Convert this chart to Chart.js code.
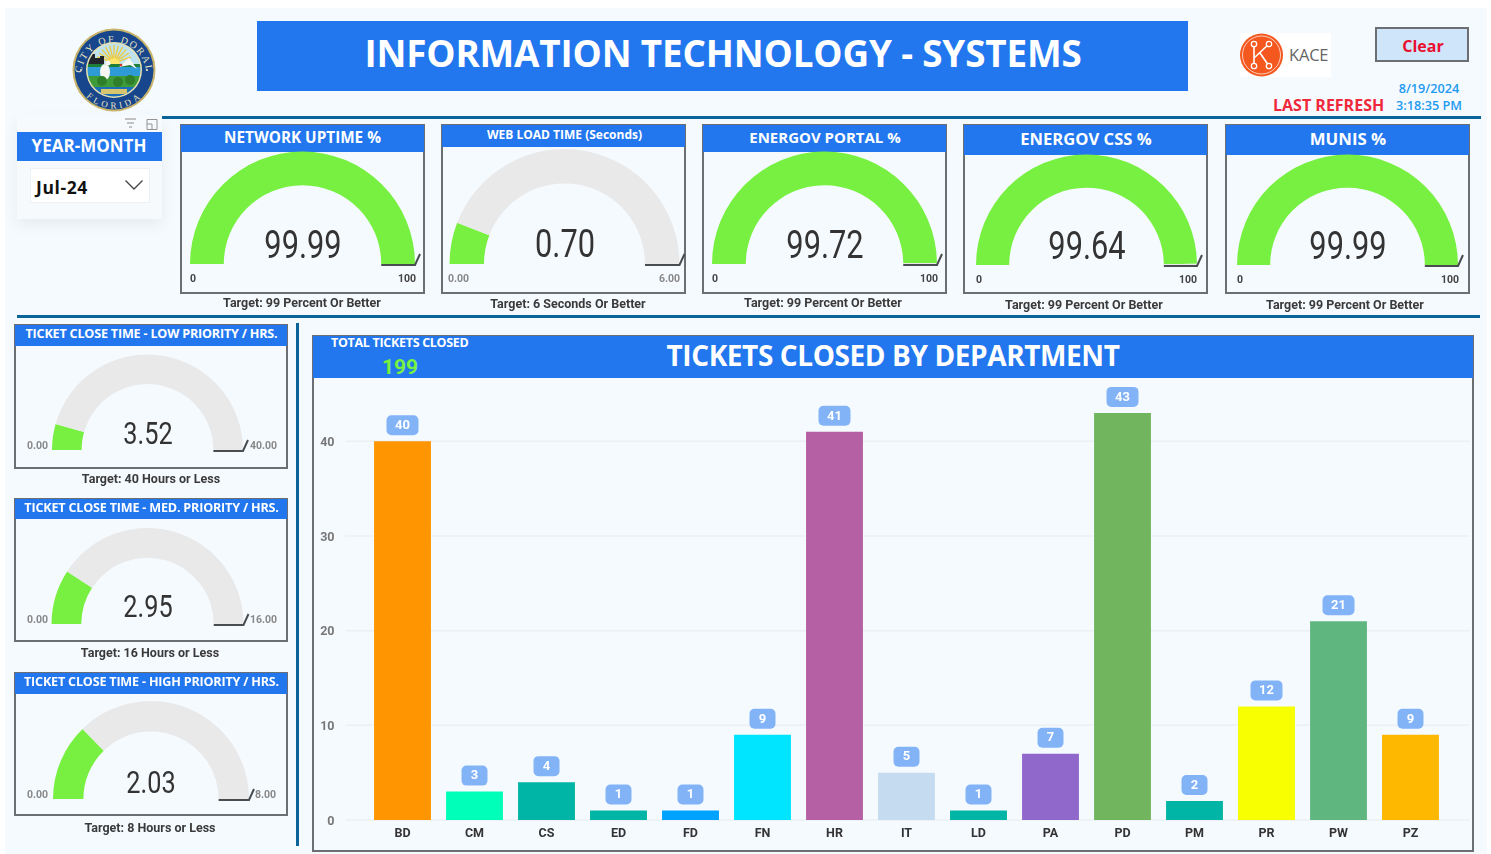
<!DOCTYPE html>
<html>
<head>
<meta charset="utf-8">
<title>Information Technology - Systems</title>
<script src="https://cdn.jsdelivr.net/npm/chart.js@4"></script>
<style>
html, body { margin: 0; padding: 0; background: #fff; overflow: hidden; }
#page { position: absolute; left: 5px; top: 8px; width: 1482px; height: 846px; background: #F5FAFF; }
#stage { position: absolute; left: 0; top: 0; width: 1491px; height: 854px; font-family: "Open Sans", sans-serif; }
.abs { position: absolute; box-sizing: border-box; }
.txt { position: absolute; white-space: nowrap; line-height: 1; }
canvas { position: absolute; }
</style>
</head>
<body>
<div id="page"></div>
<div id="stage"></div>
<script>
// Top row gauges
const topTitles = ['NETWORK UPTIME %', 'WEB LOAD TIME (Seconds)', 'ENERGOV PORTAL %', 'ENERGOV CSS %', 'MUNIS %'];
const topValues = [99.99, 0.70, 99.72, 99.64, 99.99];
const topValueText = ['99.99', '0.70', '99.72', '99.64', '99.99'];
const topMax = [100, 6, 100, 100, 100];
const topMarkers = [100, 6, 100, 100, 100];
const topMinText = ['0', '0.00', '0', '0', '0'];
const topMaxText = ['100', '6.00', '100', '100', '100'];
const topCaptions = ['Target: 99 Percent Or Better', 'Target: 6 Seconds Or Better', 'Target: 99 Percent Or Better', 'Target: 99 Percent Or Better', 'Target: 99 Percent Or Better'];

// Left column gauges
const sideTitles = ['TICKET CLOSE TIME - LOW PRIORITY / HRS.', 'TICKET CLOSE TIME - MED. PRIORITY / HRS.', 'TICKET CLOSE TIME - HIGH PRIORITY / HRS.'];
const sideValues = [3.52, 2.95, 2.03];
const sideValueText = ['3.52', '2.95', '2.03'];
const sideMax = [40, 16, 8];
const sideMarkers = [40, 16, 8];
const sideMinText = ['0.00', '0.00', '0.00'];
const sideMaxText = ['40.00', '16.00', '8.00'];
const sideCaptions = ['Target: 40 Hours or Less', 'Target: 16 Hours or Less', 'Target: 8 Hours or Less'];

// Bar chart
const departments = ['BD', 'CM', 'CS', 'ED', 'FD', 'FN', 'HR', 'IT', 'LD', 'PA', 'PD', 'PM', 'PR', 'PW', 'PZ'];
const ticketsClosed = [40, 3, 4, 1, 1, 9, 41, 5, 1, 7, 43, 2, 12, 21, 9];
const barColors = ['#FF9500', '#00FFB8', '#00B5A5', '#00B5A5', '#00A2FF', '#00E5FF', '#B55FA5', '#C5DCF0', '#00B5A5', '#9068CC', '#71B65F', '#00B5A5', '#F7FF00', '#5FB67F', '#FFB800'];
const totalClosed = '199';

const BLUE = '#2277EE';
const GREEN = '#78F042';
const GREY = '#E9E9E9';
const RULE = '#0B6498';
const stage = document.getElementById('stage');

function rect(x, y, w, h, css) {
    var d = document.createElement('div');
    d.className = 'abs';
    d.style.cssText = 'left:' + x + 'px;top:' + y + 'px;width:' + w + 'px;height:' + h + 'px;' + (css || '');
    stage.appendChild(d);
    return d;
}

// align: 'l' = x is left edge, 'r' = x is right edge, 'c' = x is centre. y is always the middle.
function label(text, x, y, align, css, stretch) {
    var d = document.createElement('div');
    d.className = 'txt';
    d.textContent = text;
    var shift = align == 'c' ? '-50%' : (align == 'r' ? '-100%' : '0');
    d.style.cssText = 'left:' + x + 'px;top:' + y + 'px;' + (css || '');
    d.style.transformOrigin = '0 center';
    d.style.transform = (stretch ? 'scaleX(' + stretch + ') ' : '') + 'translate(' + shift + ',-50%)';
    stage.appendChild(d);
    return d;
}

// target marker: radial line across the ring, with a short tail past the rim
const targetMark = {
    id: 'targetMark',
    afterDatasetsDraw: function(chart) {
        var target = chart.config.options.plugins.targetMark;
        var arc = chart.getDatasetMeta(0).data[0];
        var a = Math.PI + Math.PI * target.value / target.max;
        var c = chart.ctx;
        var cx = arc.x, cy = arc.y + 1;
        var ox = cx + Math.cos(a) * arc.outerRadius, oy = cy + Math.sin(a) * arc.outerRadius;
        c.save();
        c.strokeStyle = '#4a4d50';
        c.lineWidth = 2;
        c.beginPath();
        c.moveTo(cx + Math.cos(a) * arc.innerRadius, cy + Math.sin(a) * arc.innerRadius);
        c.lineTo(ox, oy);
        c.lineTo(ox + 5, oy - 11);
        c.stroke();
        c.restore();
    }
};

function gauge(box, value, max, marker) {
    var cv = document.createElement('canvas');
    cv.width = box.w;
    cv.height = box.h;
    cv.style.left = box.x + 'px';
    cv.style.top = box.y + 'px';
    stage.appendChild(cv);
    new Chart(cv.getContext('2d'), {
        type: 'doughnut',
        data: { datasets: [{ data: [value, max - value], backgroundColor: [GREEN, GREY], borderWidth: 0 }] },
        options: {
            responsive: false,
            animation: false,
            events: [],
            rotation: -90,
            circumference: 180,
            cutout: box.cut,
            layout: { padding: {
                left: box.cx - box.r - box.x,
                right: box.x + box.w - box.cx - box.r,
                top: box.base - box.r - box.y,
                bottom: box.y + box.h - box.base
            } },
            plugins: { legend: { display: false }, tooltip: { enabled: false }, targetMark: { value: marker, max: max } }
        },
        plugins: [targetMark]
    });
}

function panel(box, title, titleCss) {
    rect(box.x, box.y, box.w, box.h, 'border:2px solid #6b6f73;');
    rect(box.x + 1, box.y + 1, box.w - 2, box.head, 'background:' + BLUE + ';');
    label(title, box.cx0, box.titleY, 'c', 'color:#fff;font-weight:700;' + titleCss);
}

// ---------- banner ----------
rect(257, 21, 931, 70, 'background:' + BLUE + ';');
label('INFORMATION TECHNOLOGY - SYSTEMS', 723, 53, 'c', 'color:#fff;font-weight:700;font-size:36.800px;letter-spacing:-0.15px;');

// city seal
var seal = rect(71, 27, 86, 86);
var rays = '';
for (var deg = -70; deg <= 70; deg += 14) {
    rays += '<line x1="43" y1="36" x2="43" y2="18" stroke="#F2C832" stroke-width="1.2" transform="rotate(' + deg + ' 43 36)"/>';
}
seal.innerHTML = '<svg width="86" height="86" viewBox="0 0 86 86"><defs>' +
    '<path id="sealTop" d="M10.500 48 A32.500 32.500 0 0 1 75.500 48"/><path id="sealBot" d="M11 50 A33 33 0 0 0 75 50"/>' +
    '<clipPath id="sealClip"><circle cx="43" cy="43" r="26.500"/></clipPath></defs>' +
    '<circle cx="43" cy="43" r="41.500" fill="#C9B56A"/><circle cx="43" cy="43" r="39.500" fill="#17468C"/>' +
    '<circle cx="43" cy="43" r="28" fill="#E8E2B0"/>' +
    '<g clip-path="url(#sealClip)"><rect x="14" y="14" width="58" height="24" fill="#BFE3EE"/>' + rays +
    '<circle cx="43" cy="37" r="6" fill="#FBE56A"/>' +
    '<path d="M14 37 V30 H20 V27 H24 V31 H29 V29 H33 V37 Z" fill="#20262B"/>' +
    '<rect x="14" y="37" width="58" height="3" fill="#1E7F3A"/><rect x="14" y="40" width="58" height="9" fill="#2E9BD6"/>' +
    '<rect x="14" y="49" width="58" height="11" fill="#3E9B3A"/><rect x="14" y="60" width="58" height="12" fill="#1C6FB5"/>' +
    '<ellipse cx="34" cy="45" rx="5" ry="8" fill="#F6F6F2"/><circle cx="37" cy="36" r="2.500" fill="#F6F6F2"/>' +
    '<path d="M48 40 L58 31 L66 42 L59 38 Z" fill="#F6F6F2"/><circle cx="50" cy="38" r="1.300" fill="#D8342A"/>' +
    '<circle cx="31" cy="54" r="5" fill="#2F7F2A"/><circle cx="47" cy="55" r="5" fill="#2F7F2A"/><circle cx="59" cy="53" r="5" fill="#2F7F2A"/>' +
    '<rect x="30" y="62" width="26" height="5" fill="#D8C56E"/></g>' +
    '<circle cx="10" cy="43" r="1" fill="#E9E4C0"/><circle cx="76" cy="43" r="1" fill="#E9E4C0"/>' +
    '<text font-family="Liberation Serif" font-size="10" fill="#E9E4C0" letter-spacing="1.800"><textPath href="#sealTop" startOffset="50%" text-anchor="middle">CITY OF DORAL</textPath></text>' +
    '<text font-family="Liberation Serif" font-size="9" fill="#E9E4C0" letter-spacing="2"><textPath href="#sealBot" startOffset="50%" text-anchor="middle" dominant-baseline="hanging">FLORIDA</textPath></text>' +
    '</svg>';

// KACE logo
var kace = rect(1240, 33, 91, 44, 'background:#fff;');
kace.innerHTML = '<svg width="44" height="44" viewBox="0 0 44 44" style="position:absolute;left:0;top:0">' +
    '<circle cx="21.500" cy="22" r="21.500" fill="#F4581E"/><circle cx="21.500" cy="22" r="19" fill="none" stroke="#fff" stroke-width="0.7"/>' +
    '<path d="M14 11 V33 M14 25 L29 11 M20 20 L29 33" fill="none" stroke="#fff" stroke-width="1.6"/>' +
    '<circle cx="14" cy="11" r="2.700" fill="#F4581E" stroke="#fff" stroke-width="1.300"/><circle cx="14" cy="33" r="2.700" fill="#F4581E" stroke="#fff" stroke-width="1.300"/>' +
    '<circle cx="29" cy="11" r="2.700" fill="#F4581E" stroke="#fff" stroke-width="1.300"/><circle cx="29" cy="33" r="2.700" fill="#F4581E" stroke="#fff" stroke-width="1.300"/></svg>';
label('KACE', 1289, 55, 'l', 'color:#666;font-size:16.500px;letter-spacing:-0.2px;');

// clear button and refresh stamp
rect(1375, 27, 94, 35, 'background:#CFE6FA;border:2px solid #6b6f73;');
label('Clear', 1423, 46, 'c', 'color:#E8102E;font-weight:700;font-size:16px;');
label('8/19/2024', 1429, 88, 'c', 'color:#1E9BEF;font-weight:600;font-size:12.700px;');
label('3:18:35 PM', 1429, 105, 'c', 'color:#1E9BEF;font-weight:600;font-size:12.700px;');
label('LAST REFRESH', 1273, 105, 'l', 'color:#F0283C;font-weight:700;font-size:16px;');

// rules
rect(162, 116, 1319, 3, 'background:' + RULE + ';');
rect(17, 315, 1463, 3, 'background:' + RULE + ';');
rect(296, 323, 3, 523, 'background:' + RULE + ';');

// ---------- year-month slicer ----------
rect(17, 115, 145, 104, 'background:#F7FAFD;box-shadow:0 6px 14px rgba(0,0,0,0.06);');
rect(17, 132, 145, 29, 'background:' + BLUE + ';');
label('YEAR-MONTH', 89, 145, 'c', 'color:#fff;font-weight:700;font-size:17px;');
rect(30, 168, 120, 35, 'background:#fff;border:1px solid #eef1f4;');
label('Jul-24', 36, 188, 'l', 'color:#111;font-weight:700;font-size:17.500px;letter-spacing:0.6px;');
var icons = rect(122, 116, 40, 15);
icons.innerHTML = '<svg width="40" height="15" style="position:absolute;left:0;top:0" fill="none" stroke="#888">' +
    '<path d="M3 3 H14 M5 7 H12 M7 11 H10"/><path d="M25 3.500 H35 V13.500 H25 Z M25 8 H30 V13.500" stroke-width="0.9"/></svg>';
var chev = rect(124, 179, 20, 12);
chev.innerHTML = '<svg width="20" height="12" style="position:absolute;left:0;top:0"><path d="M1.500 1.500 L10 10 L18.500 1.500" fill="none" stroke="#444" stroke-width="1.3"/></svg>';

// ---------- top gauges ----------
const topBoxes = [
    { x: 180, y: 124, w: 245, h: 170, head: 27, cx: 302.5, r: 112.5, base: 264, cut: '70%', cx0: 302.5, titleY: 137.5, titleSize: 15.3, valueY: 245, captionX: 302, captionY: 303, minX: 190, maxX: 416, labelY: 279 },
    { x: 441, y: 124, w: 245, h: 170, head: 22, cx: 564.5, r: 115, base: 264, cut: '70%', cx0: 564.5, titleY: 134.5, titleSize: 12, valueY: 244, captionX: 568, captionY: 304, minX: 448, maxX: 680, labelY: 279 },
    { x: 702, y: 124, w: 245, h: 170, head: 27, cx: 824.5, r: 112.5, base: 264, cut: '70%', cx0: 825, titleY: 136.5, titleSize: 15, valueY: 245, captionX: 823, captionY: 303, minX: 712, maxX: 938, labelY: 279 },
    { x: 963, y: 124, w: 245, h: 170, head: 30, cx: 1086.5, r: 110.5, base: 265, cut: '70%', cx0: 1086, titleY: 139, titleSize: 16.6, valueY: 246, captionX: 1084, captionY: 305, minX: 976, maxX: 1197, labelY: 280 },
    { x: 1225, y: 124, w: 245, h: 170, head: 30, cx: 1347.5, r: 110.5, base: 265, cut: '70%', cx0: 1348, titleY: 139, titleSize: 16.8, valueY: 246, captionX: 1345, captionY: 305, minX: 1237, maxX: 1459, labelY: 280 }
];

topTitles.forEach(function(title, i) {
    var b = topBoxes[i];
    panel(b, title, 'font-size:' + b.titleSize + 'px;');
    gauge(b, topValues[i], topMax[i], topMarkers[i]);
    label(topValueText[i], b.cx, b.valueY, 'c', 'color:#333;font-family:Roboto;font-size:38px;', 0.81);
    var small = topMinText[i].indexOf('.') > 0 ? '#888' : '#444';
    label(topMinText[i], b.minX, b.labelY, 'l', 'color:' + small + ';font-family:Roboto;font-weight:700;font-size:10.500px;');
    label(topMaxText[i], b.maxX, b.labelY, 'r', 'color:' + small + ';font-family:Roboto;font-weight:700;font-size:10.500px;');
    label(topCaptions[i], b.captionX, b.captionY, 'c', 'color:#3a3a3a;font-family:Roboto;font-weight:700;font-size:12.500px;');
});

// ---------- side gauges ----------
const sideBoxes = [
    { x: 14, y: 324, w: 274, h: 145, head: 21, cx: 147.5, r: 95.5, base: 450, cut: '69%', cx0: 151.5, titleY: 333.5, titleSize: 12.6, valueY: 433, valueX: 148, captionX: 151, captionY: 479, minX: 27, maxX: 250, labelY: 446 },
    { x: 14, y: 498, w: 274, h: 144, head: 20, cx: 147.5, r: 96, base: 624, cut: '69%', cx0: 151.5, titleY: 507.5, titleSize: 12.6, valueY: 606, valueX: 148, captionX: 150, captionY: 653, minX: 27, maxX: 250, labelY: 620 },
    { x: 14, y: 672, w: 274, h: 144, head: 21, cx: 151, r: 98, base: 799, cut: '69%', cx0: 151.5, titleY: 681.5, titleSize: 12.6, valueY: 782, valueX: 151, captionX: 150, captionY: 828, minX: 27, maxX: 255, labelY: 795 }
];

sideTitles.forEach(function(title, i) {
    var b = sideBoxes[i];
    panel(b, title, 'font-size:' + b.titleSize + 'px;letter-spacing:-0.2px;');
    gauge(b, sideValues[i], sideMax[i], sideMarkers[i]);
    label(sideValueText[i], b.valueX, b.valueY, 'c', 'color:#333;font-family:Roboto;font-size:32px;', 0.79);
    label(sideMinText[i], b.minX, b.labelY, 'l', 'color:#888;font-family:Roboto;font-weight:700;font-size:10.500px;');
    label(sideMaxText[i], b.maxX, b.labelY, 'l', 'color:#888;font-family:Roboto;font-weight:700;font-size:10.500px;');
    label(sideCaptions[i], b.captionX, b.captionY, 'c', 'color:#3a3a3a;font-family:Roboto;font-weight:700;font-size:12.500px;');
});

// ---------- bar chart ----------
rect(312, 335, 1162, 517, 'border:2px solid #6b6f73;');
rect(313, 336, 1160, 42, 'background:' + BLUE + ';');
label('TOTAL TICKETS CLOSED', 331, 343, 'l', 'color:#fff;font-weight:700;font-size:12.500px;letter-spacing:-0.3px;');
label(totalClosed, 400, 367, 'c', 'color:' + GREEN + ';font-family:Roboto;font-weight:700;font-size:21px;');
label('TICKETS CLOSED BY DEPARTMENT', 893, 355, 'c', 'color:#fff;font-weight:700;font-size:28px;letter-spacing:-0.4px;');

var barCanvas = document.createElement('canvas');
barCanvas.width = 1160;
barCanvas.height = 472;
barCanvas.style.left = '313px';
barCanvas.style.top = '379px';
stage.appendChild(barCanvas);

// grid lines run wider than the category bands, so they are drawn from the y ticks here
const wideGrid = {
    id: 'wideGrid',
    beforeDatasetsDraw: function(chart) {
        var y = chart.scales.y, c = chart.ctx, area = chart.chartArea;
        c.save();
        c.strokeStyle = '#EDF0F3';
        c.lineWidth = 1.5;
        y.ticks.forEach(function(t) {
            var py = y.getPixelForValue(t.value);
            c.beginPath();
            c.moveTo(area.left - 21, py);
            c.lineTo(area.right + 23, py);
            c.stroke();
        });
        c.restore();
    }
};

// value pills above the bars
const pillLabels = {
    id: 'pillLabels',
    afterDatasetsDraw: function(chart) {
        var c = chart.ctx;
        chart.getDatasetMeta(0).data.forEach(function(bar, i) {
            var text = String(ticketsClosed[i]);
            var w = text.length > 1 ? 32 : 26, h = 20;
            var top = bar.y - 6 - h;
            c.fillStyle = '#82B3F7';
            c.beginPath();
            c.roundRect(bar.x - w / 2, top, w, h, 5);
            c.fill();
            c.fillStyle = '#fff';
            c.font = '700 13px Roboto';
            c.textAlign = 'center';
            c.textBaseline = 'middle';
            c.fillText(text, bar.x, top + h / 2 + 0.5);
        });
    }
};

new Chart(barCanvas.getContext('2d'), {
    type: 'bar',
    data: {
        labels: departments,
        datasets: [{ data: ticketsClosed, backgroundColor: barColors, borderWidth: 0, barPercentage: 0.79, categoryPercentage: 1 }]
    },
    options: {
        responsive: false,
        animation: false,
        events: [],
        layout: { padding: { top: 5.5, right: 26.5, bottom: 0, left: 0 } },
        plugins: { legend: { display: false }, tooltip: { enabled: false } },
        scales: {
            x: {
                grid: { display: false, drawTicks: false },
                border: { display: false },
                ticks: { color: '#333', padding: 6, maxRotation: 0, font: { family: 'Roboto', weight: '700', size: 12.5 } },
                afterFit: function(scale) { scale.height = 31; }
            },
            y: {
                min: 0,
                max: 46,
                grid: { display: false, drawTicks: false },
                border: { display: false },
                ticks: { stepSize: 10, includeBounds: false, color: '#777', padding: 32, labelOffset: 1.5, font: { family: 'Roboto', weight: '700', size: 12.5 } },
                // the large tick padding would otherwise also push the plot in from top and bottom
                afterFit: function(scale) { scale.width = 53.5; scale.paddingTop = 0; scale.paddingBottom = 0; }
            }
        }
    },
    plugins: [wideGrid, pillLabels]
});
</script>
</body>
</html>
